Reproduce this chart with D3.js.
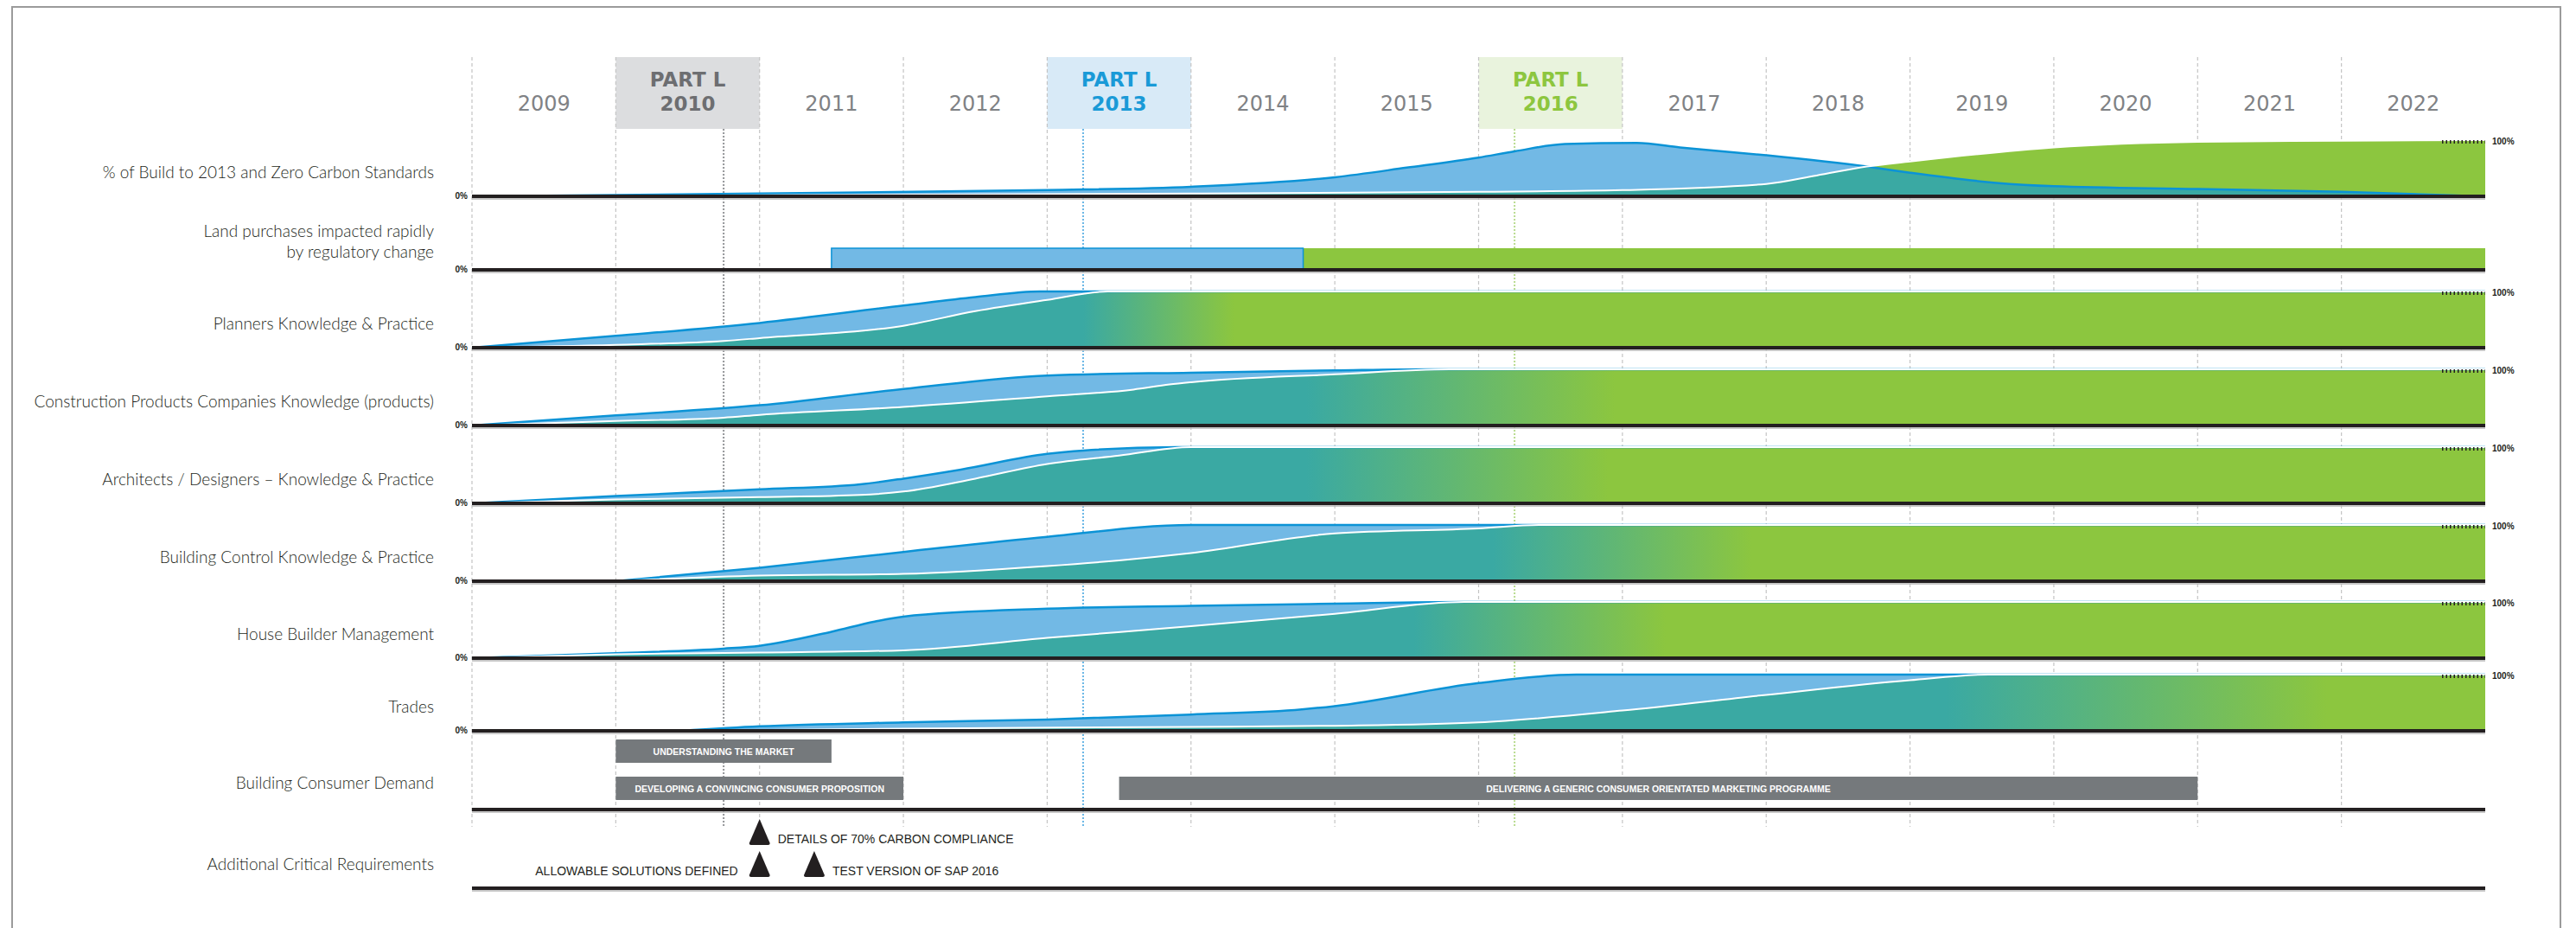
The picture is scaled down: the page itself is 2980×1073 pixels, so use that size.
<!DOCTYPE html>
<html>
<head>
<meta charset="utf-8">
<script src="https://cdn.jsdelivr.net/npm/d3@7/dist/d3.min.js"></script>
<style>
    body { margin: 0; background: #fff; }
    .rowLabel { font-family: Lato, "Open Sans", sans-serif; font-weight: 300; font-size: 19px; fill: #231f20; }
    .year { font-family: "DejaVu Sans", sans-serif; font-size: 24px; fill: #808285; }
    .partL { font-family: "DejaVu Sans", sans-serif; font-weight: bold; font-size: 23px; }
    .pct { font-family: "Liberation Sans", Arial, sans-serif; font-weight: bold; font-size: 10px; fill: #231f20; }
    .barText { font-family: "Liberation Sans", Arial, sans-serif; font-weight: bold; font-size: 10.5px; fill: #fff; }
    .reqText { font-family: "Liberation Sans", Arial, sans-serif; font-size: 14px; fill: #231f20; }
</style>
</head>
<body>
<div id="viz"><svg width="2980" height="1073"></svg></div>
<script>
// values: [year, share of row (0..1)]
const years = [2009, 2010, 2011, 2012, 2013, 2014, 2015, 2016, 2017, 2018, 2019, 2020, 2021, 2022]
const partLYears = [2010, 2013, 2016]
const partLMarks = [2010.75, 2013.25, 2016.25]

const rowLabels = [
    ["% of Build to 2013 and Zero Carbon Standards"],
    ["Land purchases impacted rapidly", "by regulatory change"],
    ["Planners Knowledge & Practice"],
    ["Construction Products Companies Knowledge (products)"],
    ["Architects / Designers \u2013 Knowledge & Practice"],
    ["Building Control Knowledge & Practice"],
    ["House Builder Management"],
    ["Trades"],
    ["Building Consumer Demand"],
    ["Additional Critical Requirements"]
]

const buildA = [[2009,0],[2011,0.05],[2013,0.11],[2014,0.17],[2015,0.34],[2015.5,0.51],[2016,0.69],[2016.25,0.8],[2016.6,0.93],[2017.1,0.95],[2017.4,0.87],[2018,0.73],[2018.7,0.53],[2019,0.42],[2019.6,0.24],[2020,0.18],[2021,0.13],[2022,0.08],[2023,0]]
const buildB = [[2009,0],[2011,0.02],[2014,0.05],[2016,0.08],[2017,0.11],[2018,0.22],[2018.35,0.37],[2018.7,0.53],[2019,0.62],[2020,0.87],[2021,0.97],[2022,0.99],[2023,1]]

const landBlue = [2011.5, 2014.78]
const landGreen = [2014.78, 2023]

const plannersA = [[2009,0],[2010,0.21],[2011,0.44],[2012,0.75],[2012.5,0.9],[2012.95,1],[2023,1]]
const plannersB = [[2009,0],[2010,0.05],[2010.75,0.12],[2011,0.17],[2012,0.39],[2012.5,0.65],[2013,0.85],[2013.42,1],[2023,1]]
const plannersFade = [2013.25, 2014.3]

const constructionA = [[2009,0],[2010,0.18],[2011,0.36],[2012,0.65],[2013,0.89],[2014,0.94],[2015,0.98],[2015.66,1],[2023,1]]
const constructionB = [[2009,0],[2010,0.08],[2010.75,0.14],[2011,0.19],[2012,0.33],[2013,0.52],[2013.6,0.64],[2013.85,0.73],[2014,0.77],[2015,0.91],[2015.8,1],[2023,1]]
const constructionFade = [2014.8, 2016.95]

const architectsA = [[2009,0],[2010,0.13],[2011,0.25],[2011.7,0.34],[2012,0.44],[2012.4,0.6],[2013,0.88],[2013.25,0.94],[2013.9,1],[2023,1]]
const architectsB = [[2009,0],[2010,0.07],[2011,0.11],[2011.7,0.15],[2012,0.21],[2012.5,0.44],[2013,0.7],[2013.5,0.85],[2014,1],[2023,1]]
const architectsFade = [2014.8, 2016.9]

const controlA = [[2010,0],[2011,0.24],[2012,0.52],[2013,0.79],[2014,1],[2023,1]]
const controlB = [[2010,0],[2011,0.1],[2012,0.13],[2013,0.27],[2013.5,0.37],[2014,0.5],[2015,0.85],[2016,0.94],[2016.42,1],[2023,1]]
const controlFade = [2016.1, 2017.9]

const houseA = [[2009,0],[2010,0.09],[2010.75,0.17],[2011,0.22],[2011.5,0.47],[2011.8,0.65],[2012,0.74],[2013,0.88],[2014,0.93],[2015,0.97],[2015.9,1],[2023,1]]
const houseB = [[2009,0],[2010,0.07],[2011,0.1],[2012,0.14],[2013,0.36],[2014,0.57],[2015,0.79],[2015.9,1],[2023,1]]
const houseFade = [2015.55, 2017.3]

const tradesA = [[2010.45,0],[2011,0.08],[2012,0.15],[2013,0.2],[2014,0.29],[2014.77,0.38],[2015,0.44],[2016,0.85],[2016.68,1],[2023,1]]
const tradesB = [[2010.45,0],[2012,0.04],[2014,0.07],[2015,0.09],[2016,0.15],[2017,0.36],[2018,0.64],[2019,0.9],[2019.55,1],[2023,1]]
const tradesFade = [2019.25, 2021.9]

const demandBars = [
    {label: "UNDERSTANDING THE MARKET", start: 2010, end: 2011.5, lane: 1},
    {label: "DEVELOPING A CONVINCING CONSUMER PROPOSITION", start: 2010, end: 2012, lane: 0},
    {label: "DELIVERING A GENERIC CONSUMER ORIENTATED MARKETING PROGRAMME", start: 2013.5, end: 2021, lane: 0}
]

const requirements = [
    {label: "DETAILS OF 70% CARBON COMPLIANCE", year: 2011, lane: 1, side: "right"},
    {label: "ALLOWABLE SOLUTIONS DEFINED", year: 2011, lane: 0, side: "left"},
    {label: "TEST VERSION OF SAP 2016", year: 2011.38, lane: 0, side: "right"}
]

// layout
const baselines = [227, 312, 402, 492, 582, 672, 761, 845, 936, 1027]
const rowHeight = 65
const headTop = 66, headBottom = 149, gridBottom = 956

const col = {
    blue: "#0b93d6", light: "#72b9e5", teal: "#3aa9a3", green: "#8cc63f",
    bar: "#75797c", ink: "#231f20", grid: "#c4c4c4"
}
const partLColors = {2010: ["#dcdddf", "#6d6e71", "#939598"], 2013: ["#d8eaf7", "#1a9ad7", "#6cb8e6"], 2016: ["#e9f3dd", "#8dc63f", "#b9db8f"]}

const x = d3.scaleLinear().domain([2009, 2023]).range([546, 2875])

const svg = d3.select("#viz").select("svg")
const defs = svg.append("defs")

// frame
svg.append("path")
    .attr("d", "M14,1073V8H2962V1073")
    .attr("fill", "none")
    .attr("stroke", "#9b9b9b")
    .attr("stroke-width", 2)

// header boxes
svg.selectAll("rect.partBox")
    .data(partLYears)
    .enter()
    .append("rect")
    .attr("class", "partBox")
    .attr("x", d => x(d))
    .attr("width", d => x(d + 1) - x(d))
    .attr("y", headTop)
    .attr("height", headBottom - headTop)
    .attr("fill", d => partLColors[d][0])

// grid
svg.selectAll("line.grid")
    .data(years)
    .enter()
    .append("line")
    .attr("class", "grid")
    .attr("x1", d => x(d)).attr("x2", d => x(d))
    .attr("y1", headTop).attr("y2", gridBottom)
    .attr("stroke", col.grid)
    .attr("stroke-width", 1.2)
    .attr("stroke-dasharray", "4,3")

svg.selectAll("line.mark")
    .data(partLMarks)
    .enter()
    .append("line")
    .attr("class", "mark")
    .attr("x1", d => x(d)).attr("x2", d => x(d))
    .attr("y1", headBottom).attr("y2", gridBottom)
    .attr("stroke", (d, i) => partLColors[partLYears[i]][2])
    .attr("stroke-width", 2)
    .attr("stroke-dasharray", "2,2")

// year labels
svg.selectAll("text.year")
    .data(years.filter(d => !partLYears.includes(d)))
    .enter()
    .append("text")
    .attr("class", "year")
    .attr("x", d => x(d + 0.5))
    .attr("y", 128)
    .attr("text-anchor", "middle")
    .text(d => d)

partLYears.forEach(yr => {
    const t = svg.append("text")
        .attr("class", "partL")
        .attr("text-anchor", "middle")
        .attr("fill", partLColors[yr][1])
    t.append("tspan").attr("x", x(yr + 0.5)).attr("y", 100).text("PART L")
    t.append("tspan").attr("x", x(yr + 0.5)).attr("y", 128).text(yr)
})

// row labels
svg.selectAll("text.rowLabel")
    .data(rowLabels)
    .enter()
    .append("text")
    .attr("class", "rowLabel")
    .attr("text-anchor", "end")
    .each(function(lines, i) {
        const base = baselines[i]
        const first = lines.length > 1 ? base - 38 : base - (i == 8 ? 24 : 21)
        d3.select(this).selectAll("tspan")
            .data(lines)
            .enter()
            .append("tspan")
            .attr("x", 502)
            .attr("y", (d, j) => first + j * 24)
            .text(d => d)
    })

// curve rows
const curveRows = [
    {row: 0, a: buildA, b: buildB, fade: null},
    {row: 2, a: plannersA, b: plannersB, fade: plannersFade},
    {row: 3, a: constructionA, b: constructionB, fade: constructionFade},
    {row: 4, a: architectsA, b: architectsB, fade: architectsFade},
    {row: 5, a: controlA, b: controlB, fade: controlFade},
    {row: 6, a: houseA, b: houseB, fade: houseFade},
    {row: 7, a: tradesA, b: tradesB, fade: tradesFade}
]

curveRows.forEach((r, i) => {
    const base = baselines[r.row]
    const y = d3.scaleLinear().domain([0, 1]).range([base, base - rowHeight])
    const area = d3.area().curve(d3.curveMonotoneX).x(d => x(d[0])).y0(base).y1(d => y(d[1]))
    const line = d3.line().curve(d3.curveMonotoneX).x(d => x(d[0])).y(d => y(d[1]))

    defs.append("clipPath")
        .attr("id", "clipA" + i)
        .append("path")
        .attr("d", area(r.a))

    let overlapFill = col.teal
    if (r.fade) {
        const grad = defs.append("linearGradient")
            .attr("id", "fade" + i)
            .attr("gradientUnits", "userSpaceOnUse")
            .attr("x1", x(r.fade[0])).attr("x2", x(r.fade[1]))
            .attr("y1", 0).attr("y2", 0)
        grad.append("stop").attr("offset", 0).attr("stop-color", col.teal)
        grad.append("stop").attr("offset", 1).attr("stop-color", col.green)
        overlapFill = "url(#fade" + i + ")"
    }

    const g = svg.append("g").attr("class", "curveRow")
    g.append("path").attr("d", area(r.b)).attr("fill", col.green)
    g.append("path").attr("d", area(r.a)).attr("fill", col.light)
    g.append("path").attr("d", area(r.b)).attr("fill", overlapFill).attr("clip-path", "url(#clipA" + i + ")")
    g.append("path").attr("d", line(r.a)).attr("fill", "none").attr("stroke", col.blue).attr("stroke-width", 2.5)
    g.append("path").attr("d", line(r.b)).attr("fill", "none").attr("stroke", "#fff").attr("stroke-width", 2)

    g.append("line")
        .attr("x1", x(2023) - 50).attr("x2", x(2023))
        .attr("y1", y(1) + 2).attr("y2", y(1) + 2)
        .attr("stroke", col.ink)
        .attr("stroke-width", 4)
        .attr("stroke-dasharray", "1.5,3")
    g.append("text")
        .attr("class", "pct")
        .attr("x", x(2023) + 8)
        .attr("y", y(1) + 5)
        .text("100%")
})

// land purchases bar
const landBase = baselines[1]
svg.append("rect")
    .attr("x", x(landGreen[0])).attr("width", x(landGreen[1]) - x(landGreen[0]))
    .attr("y", landBase - 25).attr("height", 25)
    .attr("fill", col.green)
svg.append("rect")
    .attr("x", x(landBlue[0])).attr("width", x(landBlue[1]) - x(landBlue[0]))
    .attr("y", landBase - 25).attr("height", 25)
    .attr("fill", col.light)
    .attr("stroke", col.blue)
    .attr("stroke-width", 1.5)

// consumer demand bars
const demandBase = baselines[8]
const demandG = svg.selectAll("g.demand")
    .data(demandBars)
    .enter()
    .append("g")
    .attr("class", "demand")
demandG.append("rect")
    .attr("x", d => x(d.start))
    .attr("width", d => x(d.end) - x(d.start))
    .attr("y", d => demandBase - 38 - d.lane * 43)
    .attr("height", 27)
    .attr("fill", col.bar)
demandG.append("text")
    .attr("class", "barText")
    .attr("x", d => (x(d.start) + x(d.end)) / 2)
    .attr("y", d => demandBase - 38 - d.lane * 43 + 17.5)
    .attr("text-anchor", "middle")
    .text(d => d.label)

// additional requirements
const reqBase = baselines[9]
const reqG = svg.selectAll("g.req")
    .data(requirements)
    .enter()
    .append("g")
    .attr("class", "req")
reqG.append("path")
    .attr("d", d => {
        const cx = x(d.year), bottom = reqBase - 13 - d.lane * 37, top = bottom - 30
        return "M" + cx + "," + top +
            "L" + (cx + 12) + "," + (bottom - 2) +
            "Q" + (cx + 12) + "," + bottom + " " + (cx + 10) + "," + bottom +
            "H" + (cx - 10) +
            "Q" + (cx - 12) + "," + bottom + " " + (cx - 12) + "," + (bottom - 2) + "Z"
    })
    .attr("fill", col.ink)
reqG.append("text")
    .attr("class", "reqText")
    .attr("x", d => d.side == "right" ? x(d.year) + 21 : x(d.year) - 25)
    .attr("y", d => reqBase - 15 - d.lane * 37)
    .attr("text-anchor", d => d.side == "right" ? "start" : "end")
    .text(d => d.label)

// baselines
svg.selectAll("line.base")
    .data(baselines)
    .enter()
    .append("line")
    .attr("class", "base")
    .attr("x1", x(2009)).attr("x2", x(2023))
    .attr("y1", d => d + 3).attr("y2", d => d + 3)
    .attr("stroke", "#b5b5b5")
    .attr("stroke-width", 1.5)
svg.selectAll("line.baseInk")
    .data(baselines)
    .enter()
    .append("line")
    .attr("class", "baseInk")
    .attr("x1", x(2009)).attr("x2", x(2023))
    .attr("y1", d => d).attr("y2", d => d)
    .attr("stroke", col.ink)
    .attr("stroke-width", 4)

svg.selectAll("text.zero")
    .data(baselines.slice(0, 8))
    .enter()
    .append("text")
    .attr("class", "pct")
    .attr("x", x(2009) - 5)
    .attr("y", d => d + 3)
    .attr("text-anchor", "end")
    .text("0%")
</script>
</body>
</html>
